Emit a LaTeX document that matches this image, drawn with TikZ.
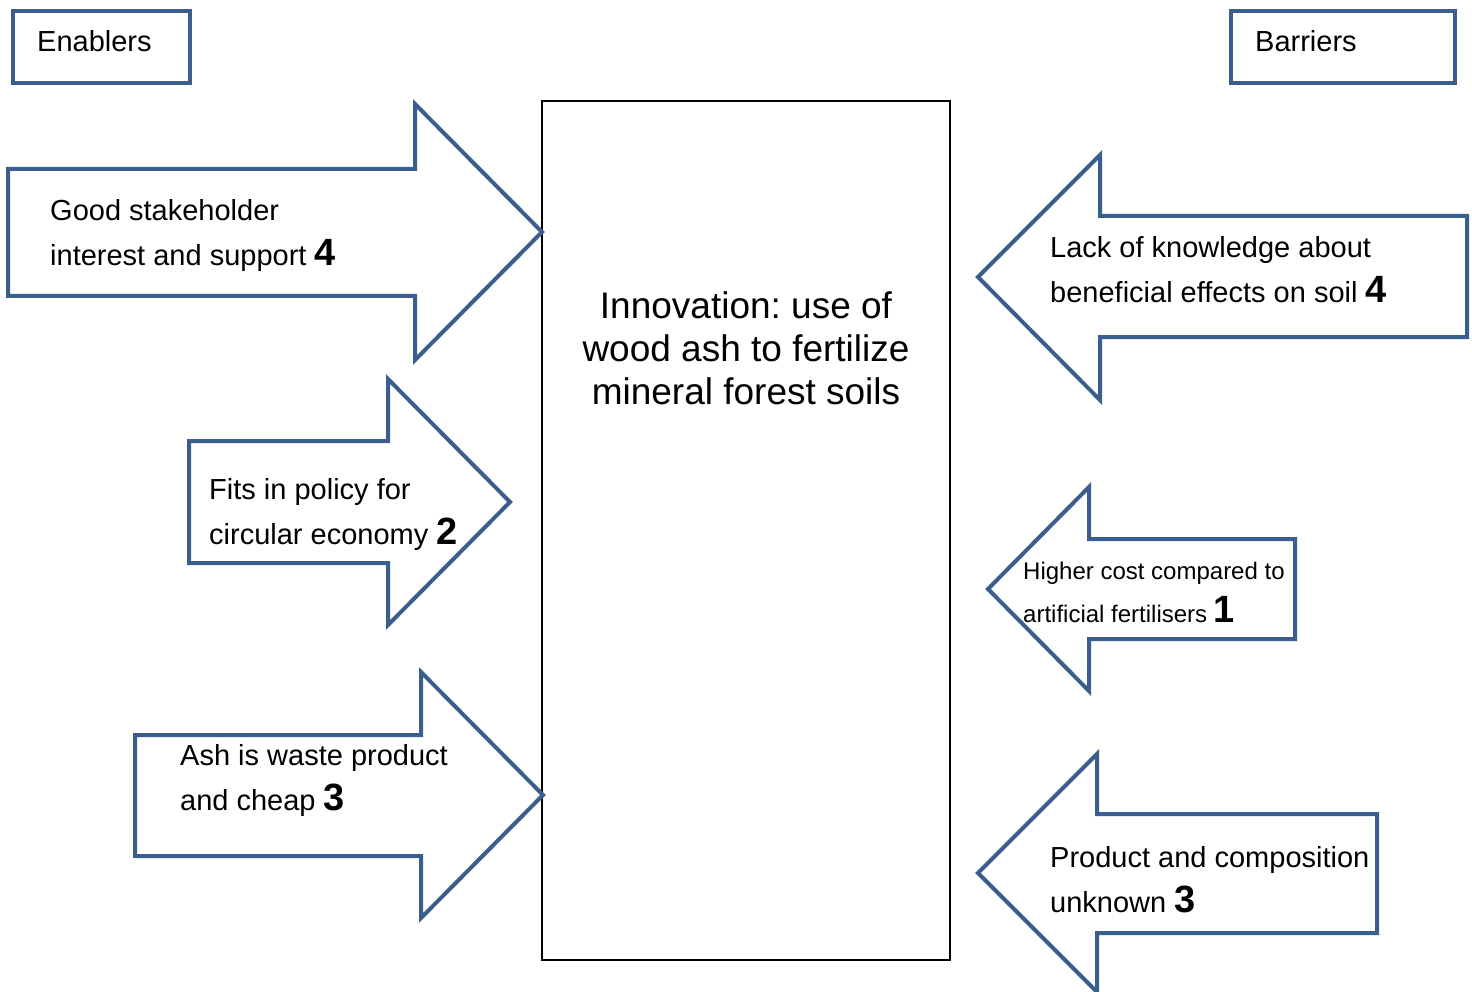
\documentclass[tikz,border=0pt]{standalone}
\usepackage{fontspec}
\setmainfont{Liberation Sans}
\frenchspacing
\definecolor{arrowblue}{RGB}{58,95,143}
\tikzset{
  blockarrow/.style={draw=arrowblue, line width=4pt, line join=miter},
  labelbox/.style={draw=arrowblue, line width=4pt},
  txt/.style={anchor=base west, inner sep=0pt, align=left, font=\fontsize{29}{45}\selectfont},
  smalltxt/.style={anchor=base west, inner sep=0pt, align=left, font=\fontsize{24}{43}\selectfont}
}
\newcommand{\score}[1]{{\fontsize{38}{45}\selectfont\bfseries #1}}
\begin{document}
\begin{tikzpicture}[x=1pt, y=-1pt]
\useasboundingbox (0,0) rectangle (1472,992);
% headers
\draw[labelbox] (13,11) rectangle (190,83);
\node[txt] (enablers) at (37,52) {Enablers};
\draw[labelbox] (1231,11) rectangle (1455,83);
\node[txt] (barriers) at (1255,52) {Barriers};
% innovation
\draw[line width=1.5pt] (542,101) rectangle (950,960);
\node[anchor=base, inner sep=0pt, align=center, font=\fontsize{37}{43}\selectfont] (innov) at (746,404)
  {Innovation: use of\\wood ash to fertilize\\mineral forest soils};
% enablers
\draw[blockarrow] (8,169)--(415,169)--(415,104)--(542,232)--(415,360)--(415,296)--(8,296)--cycle;
\node[txt] (stake) at (50,266) {Good stakeholder\\interest and support \score{4}};
\draw[blockarrow] (189,441)--(388,441)--(388,379)--(510,502)--(388,625)--(388,563)--(189,563)--cycle;
\node[txt] (policy) at (209,544) {Fits in policy for\\circular economy \score{2}};
\draw[blockarrow] (135,735)--(421,735)--(421,672)--(543,795)--(421,918)--(421,856)--(135,856)--cycle;
\node[txt] (waste) at (180,810) {Ash is waste product\\and cheap \score{3}};
% barriers
\draw[blockarrow] (1467,216)--(1100,216)--(1100,155)--(978,277)--(1100,400)--(1100,337)--(1467,337)--cycle;
\node[txt] (knowledge) at (1050,302) {Lack of knowledge about\\beneficial effects on soil \score{4}};
\draw[blockarrow] (1295,539)--(1089,539)--(1089,487)--(988,589)--(1089,691)--(1089,639)--(1295,639)--cycle;
\node[smalltxt] (cost) at (1023,622) {Higher cost compared to\\artificial fertilisers \score{1}};
\draw[blockarrow] (1377,814)--(1097,814)--(1097,754)--(978,873)--(1097,992)--(1097,933)--(1377,933)--cycle;
\node[txt] (product) at (1050,912) {Product and composition\\unknown \score{3}};
\end{tikzpicture}
\end{document}
